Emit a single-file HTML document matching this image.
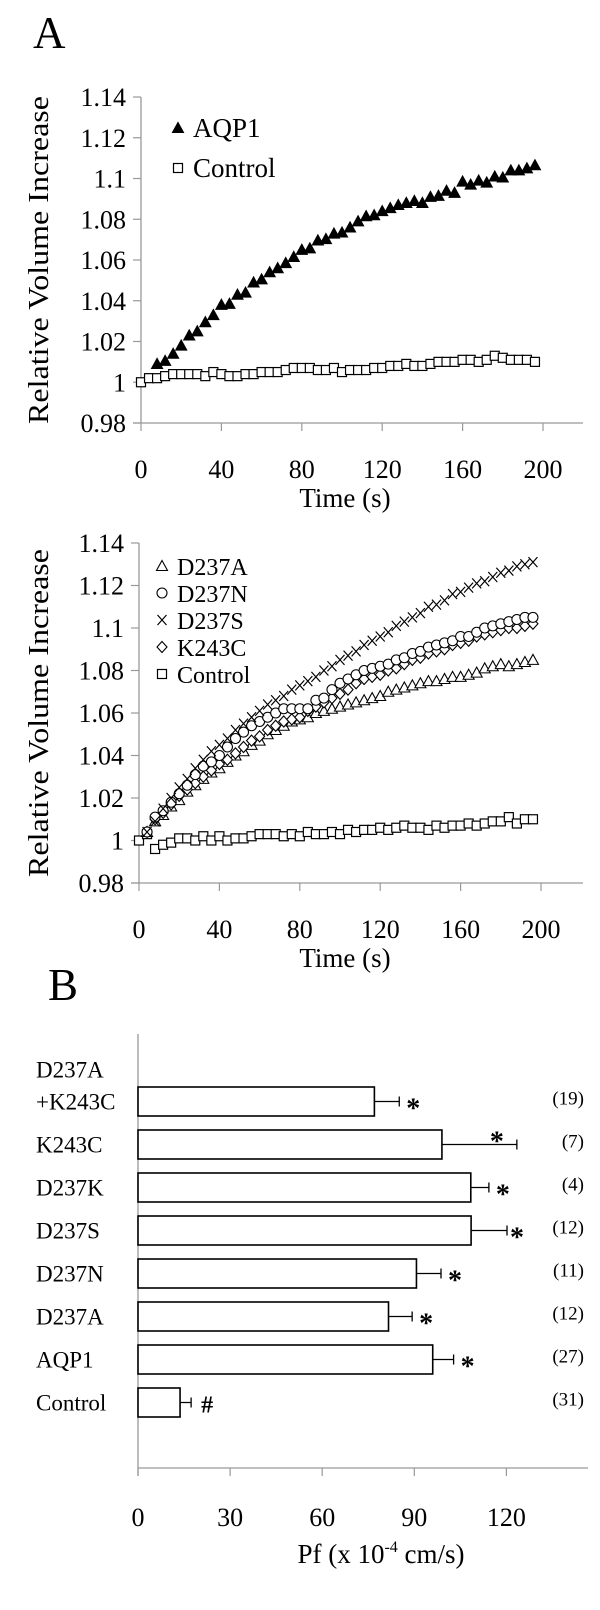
<!DOCTYPE html>
<html><head><meta charset="utf-8"><style>
body{margin:0;background:#fff}
svg{display:block;font-family:"Liberation Serif",serif}
</style></head><body>
<svg id="fig" width="600" height="1610" viewBox="0 0 600 1610" xmlns="http://www.w3.org/2000/svg">
<text x="33" y="48" font-size="45">A</text>
<text x="48" y="1000" font-size="45">B</text>
<g id="c1"></g>
<g id="c2"></g>
<g id="c3"></g>
</svg>
<script>
// ---------- Data ----------
const yTicksLine = [0.98, 1, 1.02, 1.04, 1.06, 1.08, 1.1, 1.12, 1.14];
const yTickLabelsLine = ["0.98", "1", "1.02", "1.04", "1.06", "1.08", "1.1", "1.12", "1.14"];
const xTicksLine = [0, 40, 80, 120, 160, 200];

const c1AqpStart = 8;
const c1Aqp = [1.009,1.0105,1.014,1.018,1.023,1.025,1.0295,1.033,1.038,1.0385,1.043,1.044,1.049,1.0505,1.054,1.056,1.0585,1.0615,1.065,1.0657,1.0696,1.0703,1.073,1.0735,1.076,1.079,1.0815,1.082,1.084,1.0855,1.087,1.088,1.089,1.088,1.091,1.0915,1.094,1.093,1.0985,1.097,1.099,1.098,1.101,1.1005,1.104,1.104,1.105,1.1065];
const c1CtrlStart = 0;
const c1Ctrl = [1.000,1.002,1.002,1.003,1.004,1.004,1.004,1.004,1.003,1.005,1.004,1.003,1.003,1.004,1.004,1.005,1.005,1.005,1.006,1.007,1.007,1.007,1.006,1.006,1.007,1.005,1.006,1.006,1.006,1.007,1.007,1.008,1.008,1.009,1.008,1.008,1.009,1.010,1.010,1.010,1.011,1.011,1.010,1.011,1.013,1.012,1.011,1.011,1.011,1.010];

const c2MutStart = 4;
const c2D237S = [1.004,1.009,1.015,1.020,1.025,1.029,1.034,1.038,1.042,1.045,1.048,1.052,1.055,1.058,1.061,1.064,1.066,1.068,1.071,1.073,1.075,1.077,1.080,1.082,1.085,1.087,1.089,1.092,1.094,1.096,1.098,1.101,1.103,1.105,1.107,1.110,1.111,1.113,1.116,1.117,1.119,1.121,1.122,1.124,1.126,1.127,1.129,1.130,1.131];
const c2D237N = [1.004,1.011,1.014,1.018,1.022,1.026,1.031,1.035,1.037,1.040,1.044,1.048,1.051,1.054,1.056,1.058,1.060,1.062,1.062,1.062,1.062,1.066,1.067,1.071,1.074,1.076,1.078,1.080,1.081,1.082,1.083,1.085,1.086,1.088,1.089,1.091,1.092,1.093,1.094,1.096,1.096,1.098,1.100,1.101,1.102,1.103,1.104,1.105,1.105];
const c2K243C = [1.004,1.010,1.013,1.017,1.021,1.024,1.027,1.030,1.033,1.036,1.038,1.041,1.044,1.047,1.049,1.052,1.054,1.056,1.057,1.058,1.061,1.063,1.065,1.067,1.069,1.071,1.074,1.076,1.077,1.078,1.080,1.081,1.083,1.085,1.086,1.088,1.089,1.090,1.092,1.093,1.094,1.096,1.097,1.098,1.099,1.100,1.100,1.101,1.102];
const c2D237A = [1.004,1.009,1.012,1.016,1.019,1.023,1.026,1.029,1.032,1.034,1.037,1.040,1.042,1.045,1.047,1.050,1.052,1.054,1.056,1.057,1.058,1.060,1.061,1.062,1.063,1.064,1.065,1.066,1.067,1.068,1.070,1.071,1.072,1.073,1.074,1.075,1.075,1.076,1.077,1.077,1.078,1.079,1.081,1.082,1.083,1.082,1.083,1.084,1.085];
const c2CtrlStart = 0;
const c2Ctrl = [1.000,1.003,0.996,0.998,0.999,1.001,1.001,1.000,1.002,1.000,1.002,1.000,1.001,1.001,1.002,1.003,1.003,1.003,1.002,1.003,1.002,1.004,1.003,1.003,1.004,1.003,1.005,1.004,1.005,1.005,1.006,1.005,1.006,1.007,1.006,1.006,1.005,1.007,1.006,1.007,1.007,1.008,1.007,1.008,1.009,1.009,1.011,1.008,1.010,1.010];
const timeStep = 4;

const barCategories = ["D237A+K243C","K243C","D237K","D237S","D237N","D237A","AQP1","Control"];
const barValues = [77, 99, 108.4, 108.5, 90.7, 81.6, 96, 13.7];
const barErrors = [8.1, 24.4, 5.9, 11.7, 8, 7.7, 6.8, 3.6];
const barMarks = ["*","*","*","*","*","*","*","#"];
const barN = ["(19)","(7)","(4)","(12)","(11)","(12)","(27)","(31)"];
const xTicksBar = [0, 30, 60, 90, 120];

// ---------- helpers ----------
const NS = "http://www.w3.org/2000/svg";
function mk(parent, tag, attrs, text){
  const e = document.createElementNS(NS, tag);
  for (const k in attrs) e.setAttribute(k, attrs[k]);
  if (text !== undefined) e.textContent = text;
  parent.appendChild(e);
  return e;
}
function marker(g, type, cx, cy){
  let e;
  if (type === "tri-filled" || type === "tri") {
    e = mk(g, "polygon", {points: `${cx},${cy-5.5} ${cx-5.5},${cy+4.5} ${cx+5.5},${cy+4.5}`, fill: type==="tri"?"#fff":"#000", stroke:"#000", "stroke-width":1.1});
  } else if (type === "square") {
    e = mk(g, "rect", {x: cx-4.5, y: cy-4.5, width: 9, height: 9, fill:"#fff", stroke:"#000", "stroke-width":1.2});
  } else if (type === "circle") {
    e = mk(g, "circle", {cx: cx, cy: cy, r: 5, fill:"#fff", stroke:"#000", "stroke-width":1.1});
  } else if (type === "diamond") {
    e = mk(g, "polygon", {points: `${cx},${cy-5.5} ${cx+5},${cy} ${cx},${cy+5.5} ${cx-5},${cy}`, fill:"#fff", stroke:"#000", "stroke-width":1.1});
  } else if (type === "cross") {
    e = mk(g, "path", {d: `M${cx-4.5},${cy-5}L${cx+4.5},${cy+5}M${cx+4.5},${cy-5}L${cx-4.5},${cy+5}`, stroke:"#000", "stroke-width":1.2, fill:"none"});
  }
  return e;
}

function lineChart(g, cfg){
  const xS = v => cfg.x0 + (v - 0) / 200 * (cfg.x1 - cfg.x0);
  const yS = v => cfg.yB + (v - 0.98) / 0.16 * (cfg.yT - cfg.yB);
  const axis = mk(g, "g", {});
  
  
  mk(axis, "line", {x1: cfg.x0, y1: cfg.yT, x2: cfg.x0, y2: cfg.yB, stroke:"#999", "stroke-width":1.3});
  mk(axis, "line", {x1: cfg.x0-8, y1: cfg.yB, x2: cfg.xEnd, y2: cfg.yB, stroke:"#999", "stroke-width":1.3});
  yTicksLine.forEach((v,i) => {
    mk(axis, "line", {x1: cfg.x0-8, y1: yS(v), x2: cfg.x0, y2: yS(v), stroke:"#999", "stroke-width":1.2});
    const t = mk(axis, "text", {x: cfg.x0-15, y: yS(v)+9, "font-size":26, "text-anchor":"end"}, yTickLabelsLine[i]);
    
    
  });
  xTicksLine.forEach(v => {
    mk(axis, "line", {x1: xS(v), y1: cfg.yB, x2: xS(v), y2: cfg.yB+8, stroke:"#999", "stroke-width":1.2});
    const t = mk(axis, "text", {x: xS(v), y: cfg.yB+55, "font-size":26, "text-anchor":"middle"}, String(v));
    
    
  });
  const xt = mk(axis, "text", {x: 345, y: cfg.yB+84, "font-size":27, "text-anchor":"middle"}, "Time (s)");
  
  
  const ymid = (cfg.yT + cfg.yB)/2;
  const yt = mk(axis, "text", {x: 0, y: 0, "font-size":29, "text-anchor":"middle", transform:`translate(48,${ymid}) rotate(-90)`, textLength: 328, lengthAdjust:"spacingAndGlyphs"}, "Relative Volume Increase");
  
  

  cfg.series.forEach(s => {
    const sg = mk(g, "g", {});
    
    
    s.values.forEach((v,i) => {
      const p = marker(sg, s.marker, xS(s.start + i*timeStep), yS(v));
      
      
    });
  });
  const lg = mk(g, "g", {});
  
  
  cfg.legend.forEach((l,i) => {
    const eg = mk(lg, "g", {});
    
    
    const y = cfg.legY + i*cfg.legStep;
    marker(eg, l.marker, cfg.legX, y);
    mk(eg, "text", {x: cfg.legX+15, y: y+9, "font-size":cfg.legFont}, l.name);
  });
}

lineChart(document.getElementById("c1"), {
  x0:141, x1:543, xEnd:583, yT:97, yB:423,
  series:[
    {name:"Control", marker:"square", start:c1CtrlStart, values:c1Ctrl},
    {name:"AQP1", marker:"tri-filled", start:c1AqpStart, values:c1Aqp}
  ],
  legend:[{name:"AQP1", marker:"tri-filled"},{name:"Control", marker:"square"}],
  legX:178, legY:128, legStep:40, legFont:27
});

lineChart(document.getElementById("c2"), {
  x0:139, x1:541, xEnd:583, yT:543, yB:883,
  series:[
    {name:"Control", marker:"square", start:c2CtrlStart, values:c2Ctrl},
    {name:"D237A", marker:"tri", start:c2MutStart, values:c2D237A},
    {name:"K243C", marker:"diamond", start:c2MutStart, values:c2K243C},
    {name:"D237N", marker:"circle", start:c2MutStart, values:c2D237N},
    {name:"D237S", marker:"cross", start:c2MutStart, values:c2D237S}
  ],
  legend:[{name:"D237A",marker:"tri"},{name:"D237N",marker:"circle"},{name:"D237S",marker:"cross"},{name:"K243C",marker:"diamond"},{name:"Control",marker:"square"}],
  legX:162, legY:566, legStep:27, legFont:24
});

// ---------- bar chart ----------
(function(){
  const g = document.getElementById("c3");
  const x0 = 138, pxPer = 3.07;
  const xS = v => x0 + v*pxPer;
  const top0 = 1087, pitch = 43, bh = 29, axY = 1468;
  const axis = mk(g, "g", {});
  
  
  mk(axis, "line", {x1:x0, y1:1034, x2:x0, y2:axY+8, stroke:"#999", "stroke-width":1.3});
  mk(axis, "line", {x1:x0, y1:axY, x2:588, y2:axY, stroke:"#999", "stroke-width":1.3});
  xTicksBar.forEach(v => {
    mk(axis, "line", {x1:xS(v), y1:axY, x2:xS(v), y2:axY+8, stroke:"#999", "stroke-width":1.2});
    const t = mk(axis, "text", {x:xS(v), y:1526, "font-size":26, "text-anchor":"middle"}, String(v));
    
    
  });
  const xt = mk(axis, "text", {x:381, y:1563, "font-size":27, "text-anchor":"middle"});
  
  
  xt.appendChild(document.createTextNode("Pf (x 10"));
  mk(xt, "tspan", {dy:-11, "font-size":16}, "-4");
  mk(xt, "tspan", {dy:11}, " cm/s)");

  barCategories.forEach((c,i) => {
    const bg = mk(g, "g", {});
    
    
    const y = top0 + i*pitch, cy = y + bh/2;
    const r = mk(bg, "rect", {x:x0, y:y, width:xS(barValues[i])-x0, height:bh, fill:"#fff", stroke:"#000", "stroke-width":1.6});
    
    
    const ex = xS(barValues[i] + barErrors[i]);
    const eb = mk(bg, "path", {d:`M${xS(barValues[i])},${cy}H${ex}M${ex},${cy-5}V${cy+5}`, stroke:"#000", "stroke-width":1.3, fill:"none"});
    
    
    let sx = ex + 14, sy = cy + 16;
    if (barMarks[i] === "#") { sx = ex + 16; sy = cy + 10; }
    if (i === 1) { sx = ex - 20; sy = cy + 6; }
    if (i === 3) { sx = ex + 10; }
    const m = mk(bg, "text", {x:sx, y:sy, "font-size": barMarks[i]==="#"?24:28, "font-weight":"bold", "text-anchor":"middle"}, barMarks[i]);
    
    
    const n = mk(bg, "text", {x:584, y:cy+3, "font-size":19, "text-anchor":"end"}, barN[i]);
    
    
    if (c.indexOf("+") > 0) {
      const parts = c.split("+");
      const l1 = mk(bg, "text", {x:36, y:cy-24, "font-size":23}, parts[0]);
      
      
      const l2 = mk(bg, "text", {x:36, y:cy+8, "font-size":23}, "+" + parts[1]);
      
      
    } else {
      const l = mk(bg, "text", {x:36, y:cy+8, "font-size":23}, c);
      
      
    }
  });
})();
</script>
</body></html>
